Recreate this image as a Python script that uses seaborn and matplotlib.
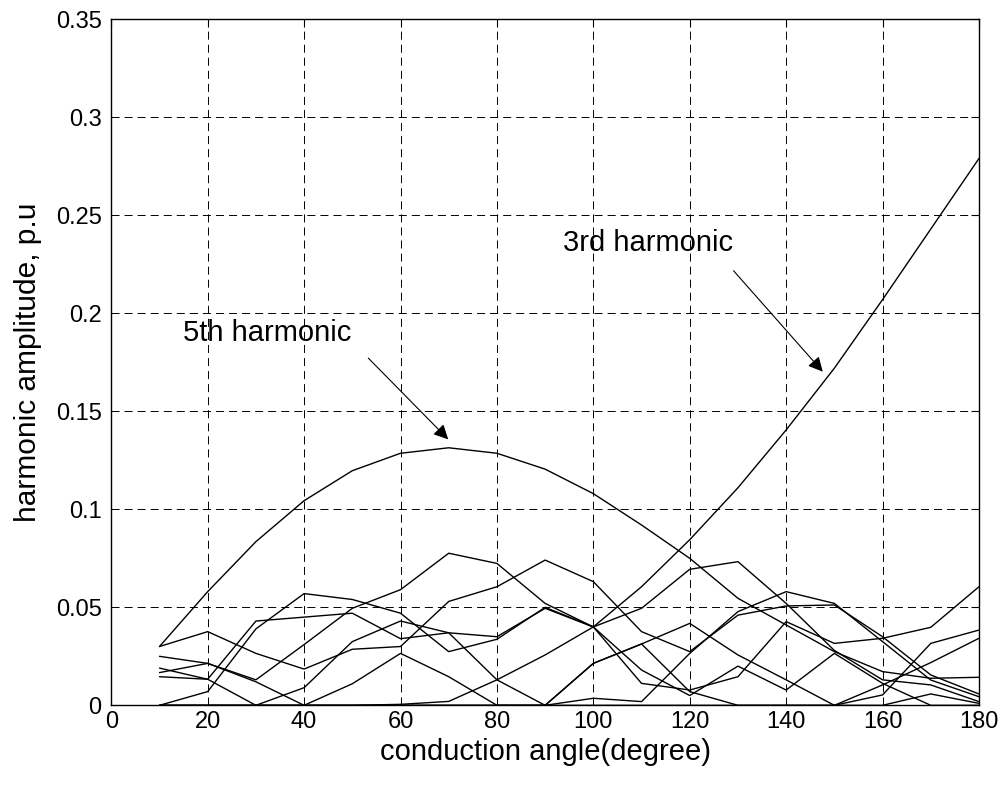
import matplotlib
matplotlib.use("Agg")
import matplotlib.pyplot as plt
import numpy as np
import pandas as pd
import seaborn as sns

# conduction angle samples (degree)
angle = [10, 20, 30, 40, 50, 60, 70, 80, 90, 100, 110, 120, 130, 140, 150, 160, 170, 180]

# harmonic amplitudes (p.u)
h3 = [0, 0, 0, 0, 0, 0.0005, 0.002, 0.013, 0.0257, 0.040, 0.0605, 0.0845, 0.111, 0.1405, 0.172, 0.207, 0.243, 0.279]
h5 = [0.030, 0.058, 0.0835, 0.1044, 0.1197, 0.1286, 0.1314, 0.1286, 0.1205, 0.108, 0.092, 0.075, 0.0546, 0.041, 0.0274, 0.0172, 0.0138, 0.0143]
curve_p = [0.025, 0.0214, 0.013, 0.031, 0.0495, 0.059, 0.0776, 0.0724, 0.052, 0.040, 0.0112, 0.0078, 0.0146, 0.0427, 0.0316, 0.0342, 0.0398, 0.0605]
curve_b = [0.030, 0.0376, 0.0265, 0.0185, 0.0286, 0.030, 0.053, 0.0605, 0.0741, 0.0631, 0.0376, 0.0274, 0.046, 0.0507, 0.0512, 0.035, 0.0155, 0.0058]
curve_q = [0, 0.007, 0.039, 0.057, 0.054, 0.047, 0.0274, 0.0337, 0.050, 0.040, 0.0495, 0.0694, 0.0733, 0.052, 0.028, 0.013, 0.0104, 0.0019]
curve_r = [0.019, 0.0133, 0.043, 0.045, 0.047, 0.034, 0.037, 0.035, 0.0495, 0.040, 0.018, 0.005, 0.020, 0.0078, 0.0265, 0.0112, 0, 0]
curve_y = [0.0146, 0.0133, 0, 0.009, 0.0325, 0.043, 0.037, 0.013, 0, 0.0214, 0.0313, 0.0418, 0.0257, 0.013, 0, 0.0053, 0.0316, 0.0384]
curve_x = [0.0167, 0.0214, 0.012, 0, 0.011, 0.0265, 0.0146, 0, 0, 0.0214, 0.0313, 0.007, 0, 0, 0, 0.0104, 0.0218, 0.0342]
curve_w = [0, 0, 0, 0, 0, 0, 0, 0, 0, 0.0036, 0.0019, 0.0265, 0.0478, 0.058, 0.052, 0.0325, 0.0129, 0.0044]
curve_z = [0, 0, 0, 0, 0, 0, 0, 0, 0, 0, 0, 0, 0, 0, 0, 0, 0.0058, 0.001]

series = {
    "3rd": h3, "5th": h5, "p": curve_p, "b": curve_b, "q": curve_q,
    "r": curve_r, "y": curve_y, "x": curve_x, "w": curve_w, "z": curve_z,
}
df = pd.concat(
    [pd.DataFrame({"angle": angle, "amplitude": v, "curve": k}) for k, v in series.items()],
    ignore_index=True,
)

sns.set_style("white")
plt.rcParams["font.family"] = ["Liberation Sans", "DejaVu Sans"]
plt.rcParams["lines.scale_dashes"] = False
plt.rcParams["text.color"] = "black"
plt.rcParams["axes.labelcolor"] = "black"

fig = plt.figure(figsize=(10.08, 7.85), dpi=100)
ax = fig.add_axes([0.1104, 0.1015, 0.8608, 0.8739])

sns.lineplot(
    data=df, x="angle", y="amplitude", hue="curve",
    palette=["black"] * len(series), legend=False,
    estimator=None, sort=False, linewidth=1.0, ax=ax,
)

ax.set_xlim(0, 180)
ax.set_ylim(0, 0.35)
ax.set_xticks(range(0, 181, 20))
ax.set_yticks(np.arange(0, 0.351, 0.05))
ax.set_yticklabels(["0", "0.05", "0.1", "0.15", "0.2", "0.25", "0.3", "0.35"])
ax.grid(True, color="black", linestyle=(0, (5.8, 3.6)), linewidth=0.7)
ax.tick_params(direction="in", length=6, width=0.8, top=True, right=True,
               labelsize=17, colors="black", labelcolor="black", pad=7)
ax.tick_params(axis="x", pad=4)
for s in ax.spines.values():
    s.set_color("black")
    s.set_linewidth(1.0)

ax.set_xlabel("conduction angle(degree)", fontsize=21, labelpad=4, color="black")
ax.set_ylabel("harmonic amplitude, p.u", fontsize=21.5, labelpad=10, color="black")

ax.annotate("5th harmonic", xy=(69.9, 0.1357), xytext=(14.9, 0.19),
            fontsize=21, va="center", ha="left", color="black",
            arrowprops=dict(arrowstyle="-|>", color="black", lw=0.8,
                            mutation_scale=22, shrinkA=0, shrinkB=0,
                            relpos=(1.1, -0.4)))
ax.annotate("3rd harmonic", xy=(147.6, 0.1702), xytext=(93.8, 0.236),
            fontsize=21, va="center", ha="left", color="black",
            arrowprops=dict(arrowstyle="-|>", color="black", lw=0.8,
                            mutation_scale=22, shrinkA=0, shrinkB=0,
                            relpos=(1.0, -0.5)))

fig.savefig("out.png", dpi=100)
